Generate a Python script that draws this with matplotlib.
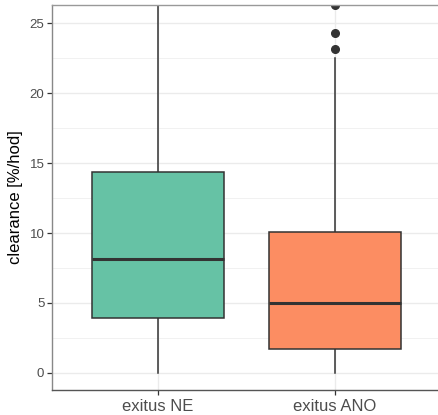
import matplotlib.pyplot as plt
import numpy as np

plt.rcParams['font.family'] = ['Liberation Sans', 'DejaVu Sans']

# box statistics
groups = ['exitus NE', 'exitus ANO']
q1 = [3.93, 1.70]
median = [8.15, 5.0]
q3 = [14.38, 10.08]
whisker_low = [0.0, 0.0]
whisker_high = [30.0, 22.5]
outliers = [[], [23.18, 24.29, 26.3]]
colors = ['#66C2A5', '#FC8D62']

fig = plt.figure(figsize=(4.39, 4.15), dpi=100)
ax = fig.add_axes([52 / 439, 1 - 390 / 415, 389 / 439, 385 / 415])

stats = []
for i, g in enumerate(groups):
    stats.append(dict(label=g, q1=q1[i], med=median[i], q3=q3[i],
                      whislo=whisker_low[i], whishi=whisker_high[i],
                      fliers=outliers[i]))

edge = '#333333'
bp = ax.bxp(stats, positions=[1, 2], widths=0.75, patch_artist=True,
            showcaps=False,
            boxprops=dict(edgecolor=edge, linewidth=1.1),
            medianprops=dict(color=edge, linewidth=2.2),
            whiskerprops=dict(color=edge, linewidth=1.1),
            flierprops=dict(marker='o', markerfacecolor=edge, markeredgecolor=edge,
                            markersize=5.5))
for patch, c in zip(bp['boxes'], colors):
    patch.set_facecolor(c)
for w in bp['whiskers']:
    w.set_zorder(1.5)

ax.set_xlim(0.4, 2.6)
ax.set_ylim(-1.22, 26.3)
ax.set_yticks(np.arange(0, 26, 5))
ax.set_yticks(np.arange(2.5, 26, 5), minor=True)
ax.grid(which='major', color='#EBEBEB', linewidth=1.0)
ax.grid(which='minor', axis='y', color='#EBEBEB', linewidth=0.5)
ax.set_axisbelow(True)

ax.spines['right'].set_visible(False)
ax.spines['top'].set_color('#999999')
ax.spines['left'].set_color('#888888')
ax.spines['bottom'].set_color('#555555')
for s in ax.spines.values():
    s.set_linewidth(1.0)

ax.tick_params(axis='both', which='major', color='#333333', length=3.5, width=0.9,
               labelcolor='#4D4D4D')
ax.tick_params(axis='y', labelsize=9.5, pad=2)
ax.tick_params(axis='x', labelsize=12, pad=3)
ax.tick_params(which='minor', length=0)
ax.set_xticks([1, 2])
ax.set_xticklabels(groups)
ax.set_ylabel('clearance [%/hod]', fontsize=12, labelpad=5)

plt.savefig('out.png', dpi=100)
